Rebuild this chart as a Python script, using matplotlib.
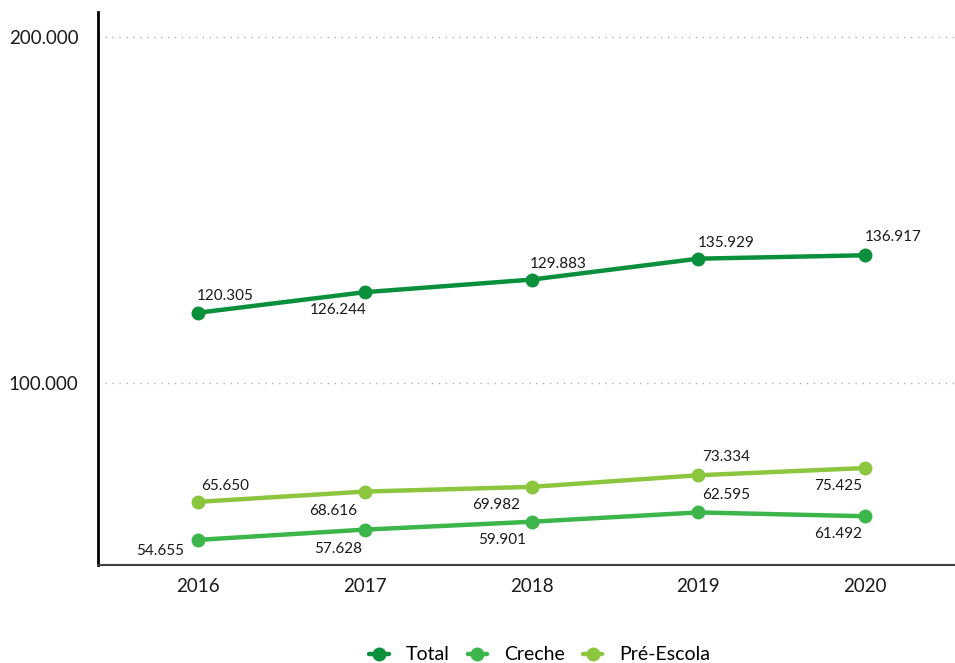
import matplotlib
matplotlib.use("Agg")
import matplotlib.pyplot as plt
from matplotlib.ticker import FuncFormatter

years = [2016, 2017, 2018, 2019, 2020]
total = [120305, 126244, 129883, 135929, 136917]
creche = [54655, 57628, 59901, 62595, 61492]
pre_escola = [65650, 68616, 69982, 73334, 75425]
y_ticks = [100000, 200000]

# label offsets in pixels (dx, dy)
off_total = [(27, 17), (-27, -18), (27, 16), (28, 16), (28, 18)]
off_creche = [(-38, -11), (-27, -19), (-29, -18), (28, 17), (-27, -18)]
off_pre = [(27, 16), (-32, -19), (-35, -18), (28, 18), (-27, -18)]


def fmt(v):
    return f"{v:,.0f}".replace(",", ".")


plt.rcParams["font.family"] = ["Lato", "DejaVu Sans"]

fig = plt.figure(figsize=(9.55, 6.63), dpi=100)
ax = fig.add_axes([98 / 955, 1 - 565 / 663, 857 / 955, 553 / 663])

series = [
    ("Total", total, "#0a8f3c", off_total),
    ("Creche", creche, "#3cb54a", off_creche),
    ("Pré-Escola", pre_escola, "#8cc63f", off_pre),
]
for name, vals, color, offs in series:
    ax.plot(years, vals, color=color, lw=3.2, marker="o", ms=9, label=name,
            solid_capstyle="round")
    for x, v, (dx, dy) in zip(years, vals, offs):
        ax.annotate(fmt(v), (x, v), xytext=(dx, dy), textcoords="offset pixels",
                    ha="center", va="center", fontsize=11, color="#1a1a1a")

ax.set_xlim(2016 - 100 / 166.75, 2020 + 90 / 166.75)
ax.set_ylim(100000 + (383 - 565) / 346 * 100000, 100000 + (383 - 12) / 346 * 100000)
ax.set_xticks(years)
ax.set_yticks(y_ticks)
ax.yaxis.set_major_formatter(FuncFormatter(lambda v, p: fmt(v)))
ax.grid(axis="y", ls=(0, (1, 4)), color="#b0b0b0", lw=1)
ax.set_axisbelow(True)
ax.tick_params(axis="both", length=0, labelsize=13.5, colors="#1a1a1a")
ax.tick_params(axis="y", pad=14)
ax.tick_params(axis="x", pad=9)
for s in ["top", "right"]:
    ax.spines[s].set_visible(False)
ax.spines["left"].set_linewidth(2)
ax.spines["left"].set_color("black")
ax.spines["bottom"].set_linewidth(1.5)
ax.spines["bottom"].set_color("#404040")

fig.legend(loc="center", bbox_to_anchor=(540 / 955, 1 - 655 / 663), ncol=3,
           frameon=False, fontsize=14, handlelength=1.0, columnspacing=0.9,
           handletextpad=0.9)

fig.savefig("out.png", dpi=100)
